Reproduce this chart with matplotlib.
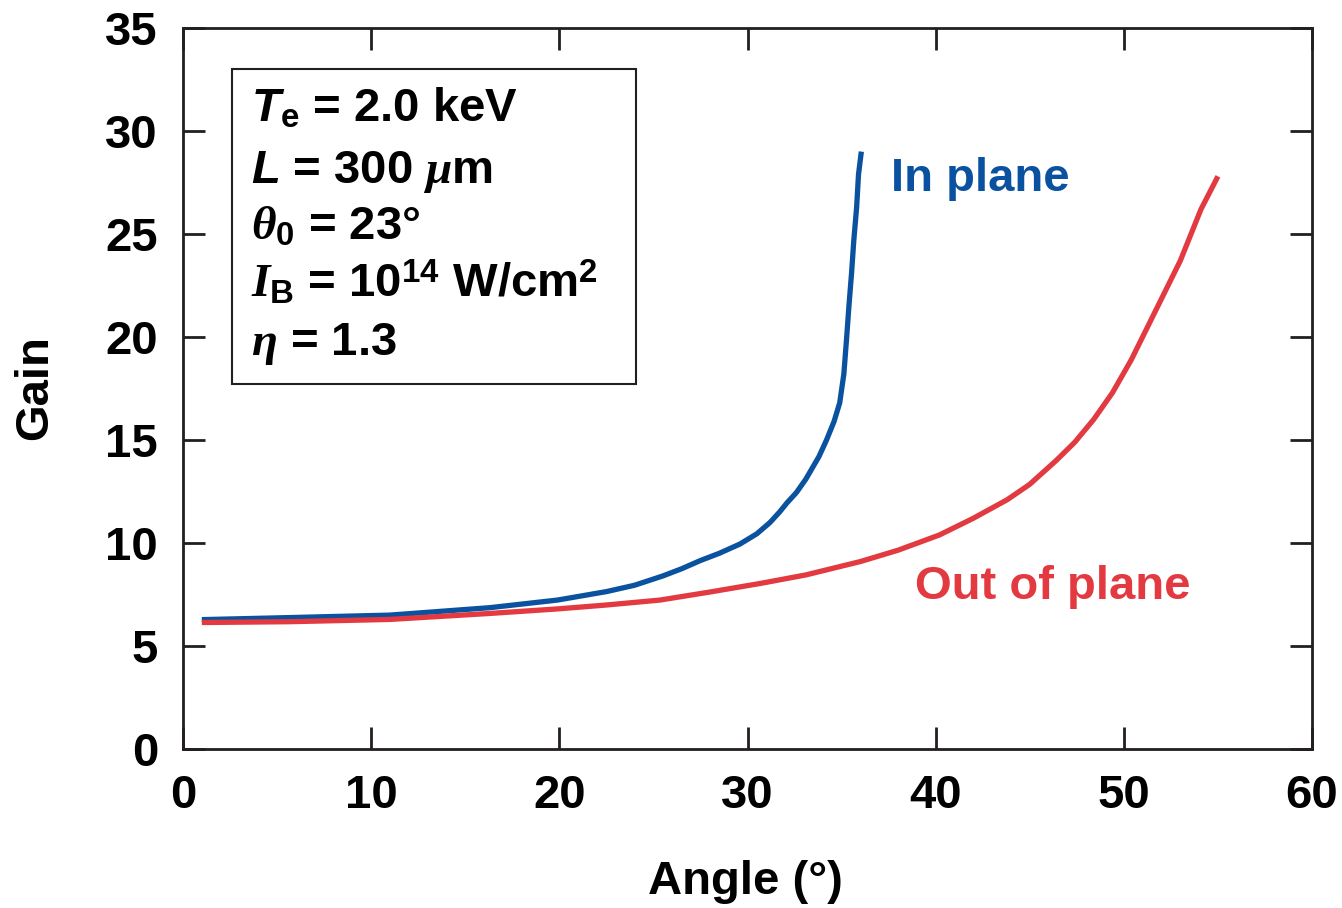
import numpy as np
import matplotlib
matplotlib.use("Agg")
import matplotlib.pyplot as plt
from matplotlib.patches import Rectangle

plt.rcParams['font.family'] = ['Liberation Sans', 'DejaVu Sans']
plt.rcParams['font.weight'] = 'bold'
plt.rcParams['mathtext.fontset'] = 'custom'
plt.rcParams['mathtext.rm'] = 'Liberation Sans:bold'
plt.rcParams['mathtext.it'] = 'Liberation Serif:bold:italic'
plt.rcParams['mathtext.bf'] = 'Liberation Sans:bold:italic'

# Data
in_angle = [1.0, 5.7, 11.0, 16.3, 19.9, 22.5, 24.0, 25.5, 26.5, 27.5, 28.5, 29.6,
            30.5, 31.2, 31.7, 32.1, 32.6, 33.1, 33.8, 34.2, 34.6, 34.9, 35.12,
            35.26, 35.39, 35.53, 35.65, 35.8, 35.9, 36.05]
in_gain = [6.28, 6.38, 6.5, 6.86, 7.23, 7.64, 7.95, 8.4, 8.75, 9.15, 9.5, 9.95,
           10.45, 11.0, 11.5, 11.95, 12.45, 13.1, 14.2, 15.0, 15.9, 16.8, 18.2,
           19.85, 21.5, 23.1, 24.7, 26.3, 27.9, 29.0]
out_angle = [1.0, 5.7, 11.0, 16.3, 19.9, 22.5, 25.35, 28.0, 30.7, 33.1, 36.0,
             38.0, 40.2, 42.0, 43.8, 45.0, 46.4, 47.4, 48.4, 49.4, 50.4, 51.7,
             53.0, 54.1, 55.0]
out_gain = [6.14, 6.18, 6.29, 6.58, 6.8, 6.99, 7.23, 7.62, 8.04, 8.45, 9.1,
            9.65, 10.39, 11.2, 12.1, 12.85, 14.0, 14.9, 16.0, 17.3, 18.9, 21.3,
            23.7, 26.2, 27.8]

xticks = [0, 10, 20, 30, 40, 50, 60]
yticks = [0, 5, 10, 15, 20, 25, 30, 35]

blue = '#0a52a0'
red = '#e23a40'
FS = 34

fig = plt.figure(figsize=(13.42, 9.08), dpi=100)
ax = fig.add_axes([183/1342, 1-749/908, 1129/1342, 721/908])

ax.plot(in_angle, in_gain, color=blue, lw=3.8, solid_capstyle='butt',
        solid_joinstyle='round')
ax.plot(out_angle, out_gain, color=red, lw=3.8, solid_capstyle='butt',
        solid_joinstyle='round')

ax.set_xlim(0, 60)
ax.set_ylim(0, 35)
ax.set_xticks(xticks)
ax.set_yticks(yticks)
ax.tick_params(direction='in', length=16, width=2, top=True, right=True,
               labelsize=FS, pad=18, color='#231f20')
for lab in ax.get_xticklabels() + ax.get_yticklabels():
    lab.set_fontweight('bold')
for s in ax.spines.values():
    s.set_linewidth(2)
    s.set_color('#231f20')

fig.text(745/1342, 1-882/908, 'Angle (°)', fontsize=FS, fontweight='bold',
         ha='center', va='center')
fig.text(35/1342, 1-388/908, 'Gain', fontsize=FS, fontweight='bold',
         ha='center', va='center', rotation=90)

ax.text(37.6, 27.09, 'In plane', color=blue, fontsize=FS, fontweight='bold',
        ha='left', va='baseline')
ax.text(38.9, 7.3, 'Out of plane', color=red, fontsize=FS, fontweight='bold',
        ha='left', va='baseline')

# Parameter box
ax.add_patch(Rectangle((0.0434, 0.506), 0.3578, 0.437, transform=ax.transAxes,
                       fill=False, lw=1.5, ec='#231f20'))
lines = [r'$\mathbf{T}_{\mathrm{e}}$ = 2.0 keV',
         r'$\mathbf{L}$ = 300 $\mu$m',
         r'$\theta_{\mathrm{0}}$ = 23°',
         r'$I_{\mathrm{B}}$ = 10$^{\mathrm{14}}$ W/cm$^{\mathrm{2}}$',
         r'$\eta$ = 1.3']
baselines = [122, 183, 240, 297, 355]
for t, b in zip(lines, baselines):
    ax.text(0.06, (749-b)/721, t, transform=ax.transAxes, fontsize=FS,
            fontweight='bold', ha='left', va='baseline')

fig.savefig('out.png', dpi=100)
